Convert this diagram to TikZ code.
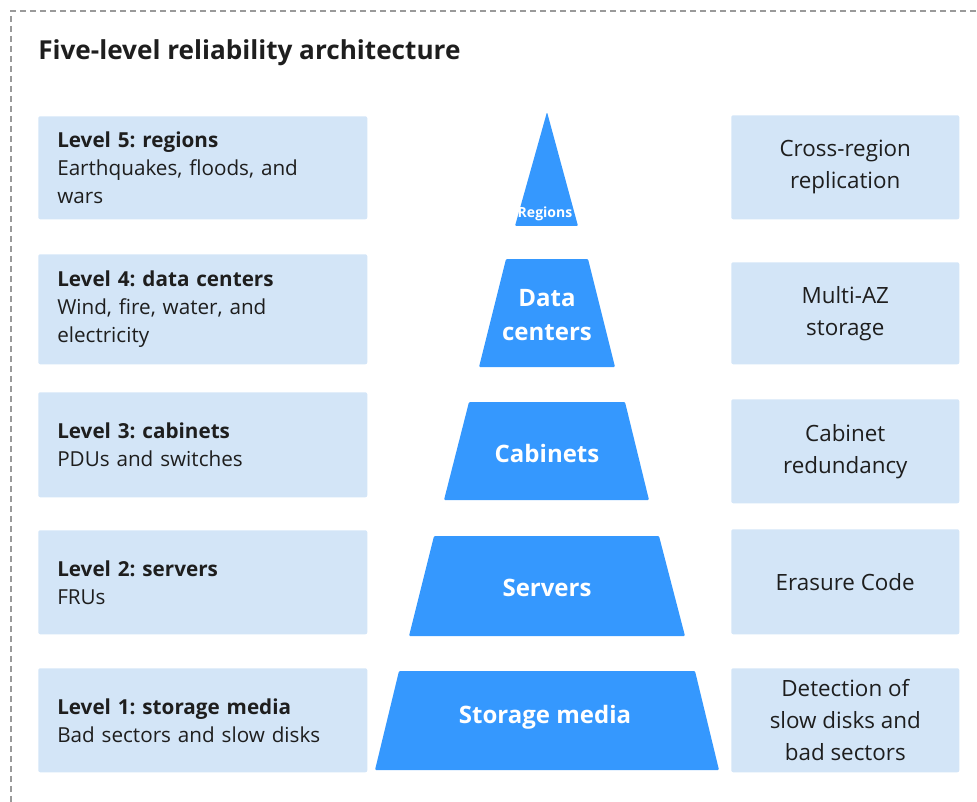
\documentclass[tikz,border=0pt]{standalone}
\usepackage{fontspec}
\setmainfont{Open Sans}
\frenchspacing
\definecolor{boxblue}{HTML}{D3E5F7}
\definecolor{pyrblue}{HTML}{3598FE}
\definecolor{txtdark}{HTML}{1E1E1E}
\definecolor{framegray}{HTML}{9A9A9A}

\begin{document}
\begin{tikzpicture}[x=0.75pt, y=-0.75pt,
  frame/.style={framegray, line width=0.8pt, dash pattern=on 4.5pt off 3pt},
  leftbox/.style={fill=boxblue, rounded corners=1.5pt, anchor=north west, text=txtdark,
    inner xsep=14.25pt, text width=218.25pt, minimum width=246.75pt, align=left,
    font=\fontsize{15.5}{21}\selectfont},
  rightbox/.style={fill=boxblue, rounded corners=1.5pt, anchor=north west, text=txtdark,
    minimum width=171pt, align=center, font=\fontsize{16.8}{24}\selectfont},
  layer/.style={fill=pyrblue, rounded corners=0.8pt},
  pyrlabel/.style={white, align=center, font=\fontsize{18}{25}\selectfont\bfseries}]
\useasboundingbox (0,0) rectangle (977,802);
\draw[frame] (11,802) -- (11,11) -- (977,11);
\node[anchor=base west, text=txtdark, inner sep=0, font=\fontsize{19.6}{24}\selectfont\bfseries] (title) at (38,60) {Five-level reliability architecture};

% left column: levels
\node[leftbox, minimum height=77.25pt] (lev5) at (38,116) {{\bfseries Level 5: regions}\\Earthquakes, floods, and\\wars};
\node[leftbox, minimum height=82.5pt] (lev4) at (38,254) {{\bfseries Level 4: data centers}\\Wind, fire, water, and\\electricity};
\node[leftbox, minimum height=78.75pt] (lev3) at (38,392) {{\bfseries Level 3: cabinets}\\PDUs and switches};
\node[leftbox, minimum height=78pt] (lev2) at (38,530) {{\bfseries Level 2: servers}\\FRUs};
\node[leftbox, minimum height=78pt] (lev1) at (38,668) {{\bfseries Level 1: storage media}\\Bad sectors and slow disks};

% pyramid
\fill[layer] (547,112) -- (578,226) -- (515,226) -- cycle;
\fill[layer] (506,259) -- (588,259) -- (615,367) -- (479,367) -- cycle;
\fill[layer] (469,402) -- (625,402) -- (649,500) -- (444,500) -- cycle;
\fill[layer] (434,536) -- (659,536) -- (685,636) -- (409,636) -- cycle;
\fill[layer] (399,671) -- (695,671) -- (719,770) -- (375,770) -- cycle;
\node[pyrlabel, font=\fontsize{10.5}{12}\selectfont\bfseries] (regions) at (545,214) {Regions};
\node[pyrlabel] (datacenters) at (547,315) {Data\\centers};
\node[pyrlabel] (cabinets) at (547,453) {Cabinets};
\node[pyrlabel] (servers) at (547,588) {Servers};
\node[pyrlabel] (media) at (545,717) {Storage media};

% right column: measures
\node[rightbox, minimum height=78pt] (crossregion) at (731,115) {Cross-region\\replication};
\node[rightbox, minimum height=76.5pt] (multiaz) at (731,262) {Multi-AZ\\storage};
\node[rightbox, minimum height=78pt] (cabred) at (731,399) {Cabinet\\redundancy};
\node[rightbox, minimum height=78.75pt] (ec) at (731,529) {Erasure Code};
\node[rightbox, minimum height=78pt] (detect) at (731,668) {Detection of\\slow disks and\\bad sectors};
\end{tikzpicture}
\end{document}
